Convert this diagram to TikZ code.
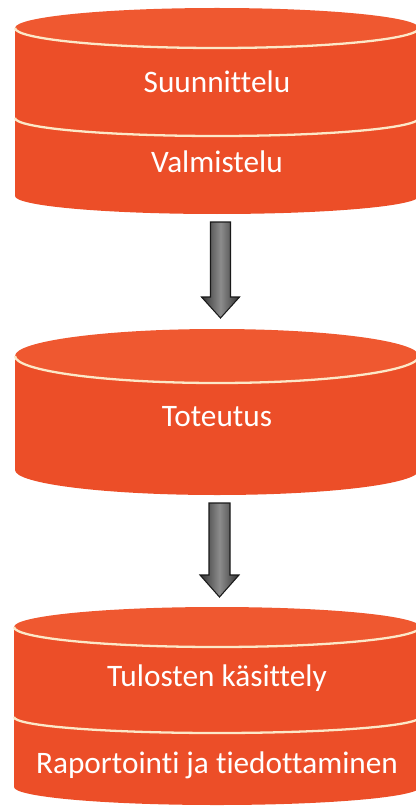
\documentclass[tikz,border=0pt]{standalone}
\usepackage{fontspec}
\setmainfont[Ligatures={NoCommon}]{Carlito}
\usetikzlibrary{calc}

\definecolor{diskred}{RGB}{236,78,40}
\definecolor{disktop}{RGB}{239,88,48}
\definecolor{seamline}{RGB}{252,232,200}

\begin{document}
\begin{tikzpicture}[
  disk/.style={fill=diskred, draw=none},
  lid/.style={fill=disktop, draw=none},
  seam/.style={draw=seamline, line width=1.3pt},
  label/.style={text=white, font=\fontsize{17.8}{21}\selectfont, inner sep=0pt},
  blockarrow/.style={draw=black!90, line width=0.6pt, line join=miter,
    left color=black!80, right color=black!80, middle color=black!45}
]
\useasboundingbox (0,0) rectangle (8.3,-16.2);

% first disk
\fill[disk] (0.30,-0.56) -- (0.30,-3.92) arc (180:360:4.04 and 0.36) -- (8.38,-0.56) -- cycle;
\fill[lid] (4.34,-0.56) ellipse (4.04 and 0.40);
\draw[seam] (0.30,-0.56) arc (180:360:4.04 and 0.40);
\draw[seam] (0.30,-2.36) arc (180:360:4.04 and 0.36);
\node[label] (suunnittelu) at (4.34,-1.64) {Suunnittelu};
\node[label] (valmistelu) at (4.34,-3.24) {Valmistelu};

% second disk
\fill[disk] (0.30,-7.12) -- (0.30,-9.40) arc (180:360:4.04 and 0.50) -- (8.38,-7.12) -- cycle;
\fill[lid] (4.34,-7.12) ellipse (4.04 and 0.54);
\draw[seam] (0.30,-7.12) arc (180:360:4.04 and 0.54);
\node[label] (toteutus) at (4.34,-8.34) {Toteutus};

% third disk
\fill[disk] (0.28,-12.54) -- (0.28,-15.74) arc (180:360:4.06 and 0.36) -- (8.40,-12.54) -- cycle;
\fill[lid] (4.34,-12.54) ellipse (4.06 and 0.40);
\draw[seam] (0.28,-12.54) arc (180:360:4.06 and 0.40);
\draw[seam] (0.28,-14.34) arc (180:360:4.06 and 0.32);
\node[label] (tulokset) at (4.34,-13.56) {Tulosten käsittely};
\node[label] (raportointi) at (4.34,-15.30) {Raportointi ja tiedottaminen};

% arrows between the disks
\coordinate (a1s) at (4.41,-4.44);
\coordinate (a1e) at (4.41,-6.36);
\coordinate (a2s) at (4.39,-10.06);
\coordinate (a2e) at (4.39,-11.94);
\draw[blockarrow] ($(a1s)+(-0.2,0)$) -- ($(a1s)+(0.2,0)$) -- ($(a1e)+(0.2,0.42)$)
  -- ($(a1e)+(0.38,0.42)$) -- (a1e) -- ($(a1e)+(-0.38,0.42)$) -- ($(a1e)+(-0.2,0.42)$) -- cycle;
\draw[blockarrow] ($(a2s)+(-0.21,0)$) -- ($(a2s)+(0.21,0)$) -- ($(a2e)+(0.21,0.44)$)
  -- ($(a2e)+(0.39,0.44)$) -- (a2e) -- ($(a2e)+(-0.39,0.44)$) -- ($(a2e)+(-0.21,0.44)$) -- cycle;
\end{tikzpicture}
\end{document}
